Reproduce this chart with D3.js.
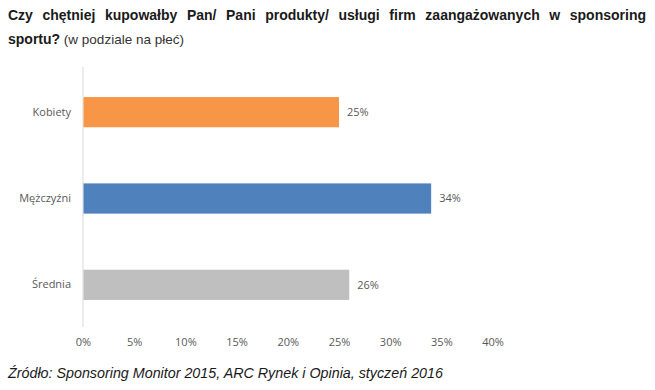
<!DOCTYPE html>
<html>
  <head>
    <meta charset="utf-8" />
    <script src="https://cdn.jsdelivr.net/npm/d3@7"></script>
    <style>
      body {
        margin: 0;
        background: #ffffff;
      }
      svg {
        display: block;
      }
      .title {
        font-family: "Liberation Sans", Arial, sans-serif;
        font-size: 14px;
        fill: #1a1a1a;
      }
      .axis text {
        font-family: "Open Sans", "Liberation Sans", sans-serif;
        font-size: 11px;
        fill: #595959;
      }
    </style>
  </head>
  <body>
    <svg id="chart" width="655" height="390"></svg>
    <script>
      // data
      const categories = ["Kobiety", "Mężczyźni", "Średnia"];
      const values = [0.25, 0.34, 0.26];
      const barColors = ["#f79646", "#4f81bd", "#bfbfbf"];
      const xTicks = [0, 0.05, 0.1, 0.15, 0.2, 0.25, 0.3, 0.35, 0.4];

      const titleLine1 = "Czy chętniej kupowałby Pan/ Pani produkty/ usługi firm zaangażowanych w sponsoring";
      const titleBold2 = "sportu?";
      const titleNormal2 = " (w podziale na płeć)";
      const sourceText = "Źródło: Sponsoring Monitor 2015, ARC Rynek i Opinia, styczeń 2016";

      const svg = d3.select("#chart");

      // title, first line justified between 8 and 646
      const words = titleLine1.split(" ");
      const g1 = svg.append("g").attr("class", "title");
      const wordNodes = words.map((w) =>
        g1.append("text").attr("y", 20).attr("font-weight", "bold").text(w)
      );
      const widths = wordNodes.map((n) => n.node().getComputedTextLength());
      const left = 8, right = 646;
      const gap = (right - left - d3.sum(widths)) / (words.length - 1);
      let cx = left;
      wordNodes.forEach((n, i) => {
        n.attr("x", cx);
        cx += widths[i] + gap;
      });

      const t2 = svg.append("text").attr("class", "title").attr("x", 8).attr("y", 44);
      t2.append("tspan").attr("font-weight", "bold").text(titleBold2);
      t2.append("tspan").attr("font-size", "13.5px").attr("fill", "#333").text(titleNormal2);

      // plot area
      const x = d3.scaleLinear().domain([0, 0.4]).range([83, 492.6]);
      const y = d3.scaleBand()
        .domain(categories)
        .range([69, 328])
        .paddingInner(0.65)
        .paddingOuter(0.325);

      // vertical category axis line
      svg.append("line")
        .attr("x1", x(0)).attr("x2", x(0))
        .attr("y1", 67).attr("y2", 327)
        .attr("stroke", "#d9d9d9")
        .attr("stroke-width", 1);

      svg.selectAll("rect.bar")
        .data(values)
        .join("rect")
        .attr("class", "bar")
        .attr("x", x(0) + 0.5)
        .attr("y", (d, i) => y(categories[i]))
        .attr("width", (d) => x(d) - x(0) - 0.5)
        .attr("height", y.bandwidth())
        .attr("fill", (d, i) => barColors[i]);

      // value labels
      svg.selectAll("text.val")
        .data(values)
        .join("text")
        .attr("class", "val")
        .attr("x", (d) => x(d) + 8)
        .attr("y", (d, i) => y(categories[i]) + y.bandwidth() / 2)
        .attr("dy", "0.35em")
        .attr("font-family", "'Open Sans', 'Liberation Sans', sans-serif")
        .attr("font-size", "11px")
        .attr("fill", "#595959")
        .text((d) => d3.format(".0%")(d));

      // category axis labels
      const yAxis = svg.append("g")
        .attr("class", "axis")
        .attr("transform", `translate(${x(0) - 12},0)`)
        .call(d3.axisLeft(y).tickSize(0).tickPadding(0));
      yAxis.select(".domain").remove();

      // x axis labels
      const xAxis = svg.append("g")
        .attr("class", "axis")
        .attr("transform", "translate(0,338)")
        .call(d3.axisBottom(x).tickValues(xTicks).tickFormat(d3.format(".0%")).tickSize(0).tickPadding(0));
      xAxis.select(".domain").remove();

      // source
      svg.append("text")
        .attr("x", 8)
        .attr("y", 378)
        .attr("font-family", "'Liberation Sans', Arial, sans-serif")
        .attr("font-size", "14.3px")
        .attr("font-style", "italic")
        .attr("fill", "#1a1a1a")
        .text(sourceText);
    </script>
  </body>
</html>
